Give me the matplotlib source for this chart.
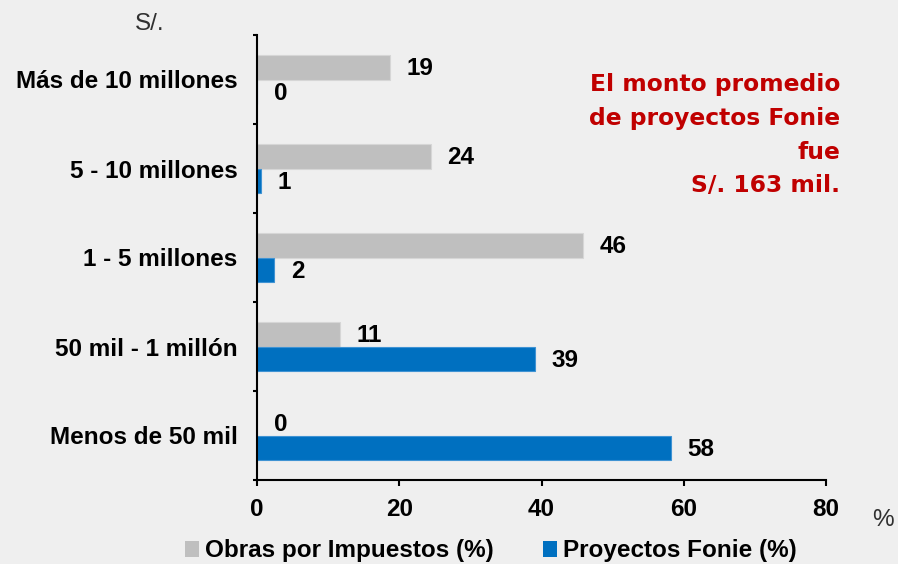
import matplotlib.pyplot as plt
from matplotlib.patches import Patch

# data, bottom category first
categorias = ["Menos de 50 mil", "50 mil - 1 millón", "1 - 5 millones",
              "5 - 10 millones", "Más de 10 millones"]
obras = [0, 11.7, 45.8, 24.4, 18.7]
obras_lbl = ["0", "11", "46", "24", "19"]
fonie = [58.2, 39.1, 2.4, 0.5, 0]
fonie_lbl = ["58", "39", "2", "1", "0"]
xticks = [0, 20, 40, 60, 80]

GRIS = "#BFBFBF"
AZUL = "#0070C0"
ROJO = "#C00000"
FONDO = "#EFEFEF"
FS = 17.5

plt.rcParams['font.family'] = ['Liberation Sans', 'DejaVu Sans']

fig = plt.figure(figsize=(8.98, 5.64), dpi=100, facecolor=FONDO)
ax = fig.add_axes([257 / 898, 1 - 480 / 564, (826 - 257) / 898, (480 - 35) / 564])
ax.set_facecolor(FONDO)

y = list(range(len(categorias)))
h = 0.28
ax.barh([v + h / 2 for v in y], obras, height=h, color=GRIS, edgecolor="#D6D6D6", linewidth=0.8)
ax.barh([v - h / 2 for v in y], fonie, height=h, color=AZUL, edgecolor="#3F93D3", linewidth=0.8)

# value labels to the right of each bar
for i in y:
    ax.annotate(obras_lbl[i], (obras[i], i + h / 2), xytext=(12, -1), textcoords="offset points",
                ha="left", va="center", fontsize=FS, fontweight="bold")
    ax.annotate(fonie_lbl[i], (fonie[i], i - h / 2), xytext=(12, -1), textcoords="offset points",
                ha="left", va="center", fontsize=FS, fontweight="bold")

ax.set_xlim(0, 80)
ax.set_ylim(-0.5, len(categorias) - 0.5)
ax.set_xticks(xticks)
ax.set_xticklabels([str(t) for t in xticks], fontsize=FS, fontweight="bold")
ax.set_yticks(y)
ax.set_yticklabels(categorias, fontsize=FS, fontweight="bold")
ax.set_yticks([v - 0.5 for v in range(len(categorias) + 1)], minor=True)
ax.tick_params(axis="y", which="major", length=0, pad=14)
ax.tick_params(axis="y", which="minor", length=3, width=1.5, direction="out")
ax.tick_params(axis="x", length=4, width=1.5, pad=9)

for s in ["top", "right"]:
    ax.spines[s].set_visible(False)
ax.spines["left"].set_linewidth(1.5)
ax.spines["bottom"].set_linewidth(1.5)

fig.text(150 / 898, 1 - 24 / 564, "S/.", fontsize=FS, ha="center", va="center", color="#303030")
fig.text(883 / 898, 1 - 520 / 564, "%", fontsize=FS, ha="center", va="center", color="#303030")

fig.text(840 / 898, 1 - 73 / 564, "El monto promedio\nde proyectos Fonie\nfue\nS/. 163 mil.",
         ha="right", va="top", color=ROJO, fontsize=16.8, fontweight="bold",
         family="DejaVu Sans", linespacing=1.6)

handles = [Patch(facecolor=GRIS, edgecolor="none"), Patch(facecolor=AZUL, edgecolor="none")]
fig.legend(handles, ["Obras por Impuestos (%)", "Proyectos Fonie (%)"], loc="center",
           bbox_to_anchor=(491 / 898, 1 - 551 / 564), ncol=2, frameon=False,
           prop={"size": FS, "weight": "bold"}, handlelength=0.6, handleheight=0.6,
           handletextpad=0.25, columnspacing=2.0)

fig.savefig("out.png", dpi=100, facecolor=FONDO)
